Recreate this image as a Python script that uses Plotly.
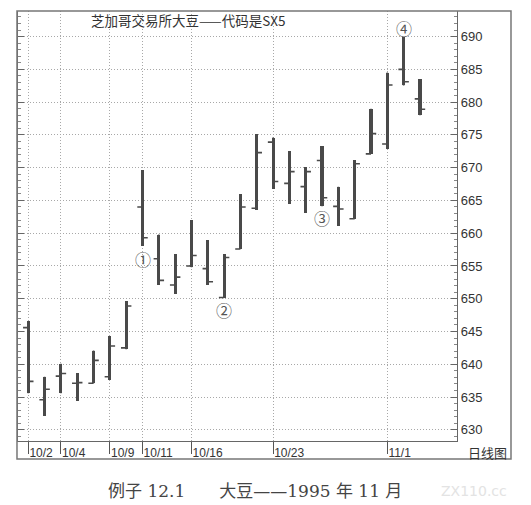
import plotly.graph_objects as go

dates = ["10/2", "10/3", "10/4", "10/5", "10/6", "10/9", "10/10", "10/11", "10/12", "10/13",
         "10/16", "10/17", "10/18", "10/19", "10/20", "10/23", "10/24", "10/25", "10/26", "10/27",
         "10/30", "10/31", "11/1", "11/2", "11/3"]
opens = [645.6, 634.6, 638.2, 637.1, 637.1, 638.1, 642.5, 664.0, 656.1, 652.1,
         655.0, 654.6, 650.2, 657.6, 663.8, 673.9, 667.6, 667.1, 671.1, 664.1,
         662.2, 672.1, 673.6, 685.0, 680.5]
highs = [646.6, 638.1, 640.1, 638.6, 642.1, 644.3, 649.6, 669.6, 659.8, 656.8,
         662.0, 658.9, 656.8, 666.0, 675.1, 674.6, 672.5, 670.1, 673.3, 667.1,
         671.1, 679.0, 684.5, 689.9, 683.5]
lows = [635.6, 632.1, 635.6, 634.4, 637.1, 637.6, 642.3, 658.1, 652.1, 650.75,
        654.8, 652.1, 650.1, 657.6, 663.6, 666.8, 664.5, 663.1, 664.1, 661.15,
        662.2, 672.1, 672.9, 682.55, 678.0]
closes = [637.4, 636.2, 638.6, 637.2, 640.6, 642.8, 648.9, 659.3, 652.8, 653.3,
          656.6, 652.6, 656.3, 664.0, 672.3, 667.9, 669.4, 669.4, 665.4, 663.7,
          670.6, 675.2, 682.6, 683.1, 678.9]

tick_dates = ["10/2", "10/4", "10/9", "10/11", "10/16", "10/23", "11/1"]
y_ticks = [630, 635, 640, 645, 650, 655, 660, 665, 670, 675, 680, 685, 690]

marks = [("①", "10/11", 656.1), ("②", "10/18", 648.3), ("③", "10/26", 662.3), ("④", "11/2", 691.3)]

title_text = "芝加哥交易所大豆——代码是SX5"
corner_text = "日线图"
caption_text = "例子 12.1　　大豆——1995 年 11 月"

BAR = "#4a4a4a"
GRID = "#a8a8a8"

fig = go.Figure()
fig.add_trace(go.Bar(
    x=dates, y=[h - l for h, l in zip(highs, lows)], base=lows,
    width=0.19, marker=dict(color=BAR, line=dict(width=0)),
    hoverinfo="skip", showlegend=False))
fig.add_trace(go.Ohlc(
    x=dates, open=opens, high=highs, low=lows, close=closes,
    increasing=dict(line=dict(color=BAR, width=1.6)),
    decreasing=dict(line=dict(color=BAR, width=1.6)),
    tickwidth=0.32, hoverinfo="skip", showlegend=False))

for t, d, v in marks:
    fig.add_annotation(x=d, y=v, xref="x", yref="y", text=t, showarrow=False,
                       font=dict(family="Noto Sans CJK SC", size=16, color="#555"))

fig.add_annotation(x=0.387, y=0.979, xref="paper", yref="paper", text=title_text,
                   showarrow=False, xanchor="center", yanchor="middle",
                   font=dict(family="Noto Sans CJK SC", size=13.5, color="#333"))
fig.add_annotation(x=1.0695, y=-0.026, xref="paper", yref="paper", text=corner_text,
                   showarrow=False, xanchor="center", yanchor="middle",
                   font=dict(family="Noto Sans CJK SC", size=13, color="#333"))
fig.add_annotation(x=0.541, y=-0.116, xref="paper", yref="paper", text=caption_text,
                   showarrow=False, xanchor="center", yanchor="middle",
                   font=dict(family="DejaVu Serif, Noto Sans CJK SC", size=17, color="#444"))
fig.add_annotation(x=1.038, y=-0.116, xref="paper", yref="paper", text="ZX110.cc",
                   showarrow=False, xanchor="center", yanchor="middle",
                   font=dict(family="DejaVu Sans", size=14, color="#e3e3e3"))

fig.add_shape(type="rect", xref="paper", yref="paper", x0=-0.0023, x1=1.123, y0=-0.0419, y1=1.0,
              line=dict(color="#777", width=1.5), fillcolor="rgba(0,0,0,0)", layer="above")

fig.update_layout(
    width=531, height=505,
    margin=dict(l=10, r=82, t=3, b=72),
    paper_bgcolor="white", plot_bgcolor="white",
    showlegend=False, bargap=0,
    xaxis=dict(
        type="category", range=[-0.63, 26.27], automargin=False,
        tickmode="array", tickvals=tick_dates, ticktext=tick_dates, tickangle=0,
        ticks="outside", ticklen=12, tickcolor="#555", tickwidth=1,
        ticklabelposition="outside right",
        tickfont=dict(family="Liberation Sans", size=12, color="#333"),
        showgrid=True, gridcolor=GRID, griddash="1px,2px", gridwidth=1,
        showline=True, linecolor="#666", linewidth=1.2,
        rangeslider=dict(visible=False), zeroline=False, fixedrange=True),
    yaxis=dict(
        side="right", range=[628.3, 693.9], automargin=False,
        tickmode="array", tickvals=y_ticks,
        ticks="inside", ticklen=6, tickcolor="#666", tickwidth=1,
        minor=dict(dtick=1, ticks="inside", ticklen=3, tickcolor="#888", showgrid=False),
        tickfont=dict(family="Liberation Sans", size=13, color="#333"),
        showgrid=True, gridcolor=GRID, griddash="1px,2px", gridwidth=1,
        showline=True, linecolor="#666", linewidth=1.2, mirror="ticks",
        zeroline=False, fixedrange=True),
)

fig.write_html("out.html")
